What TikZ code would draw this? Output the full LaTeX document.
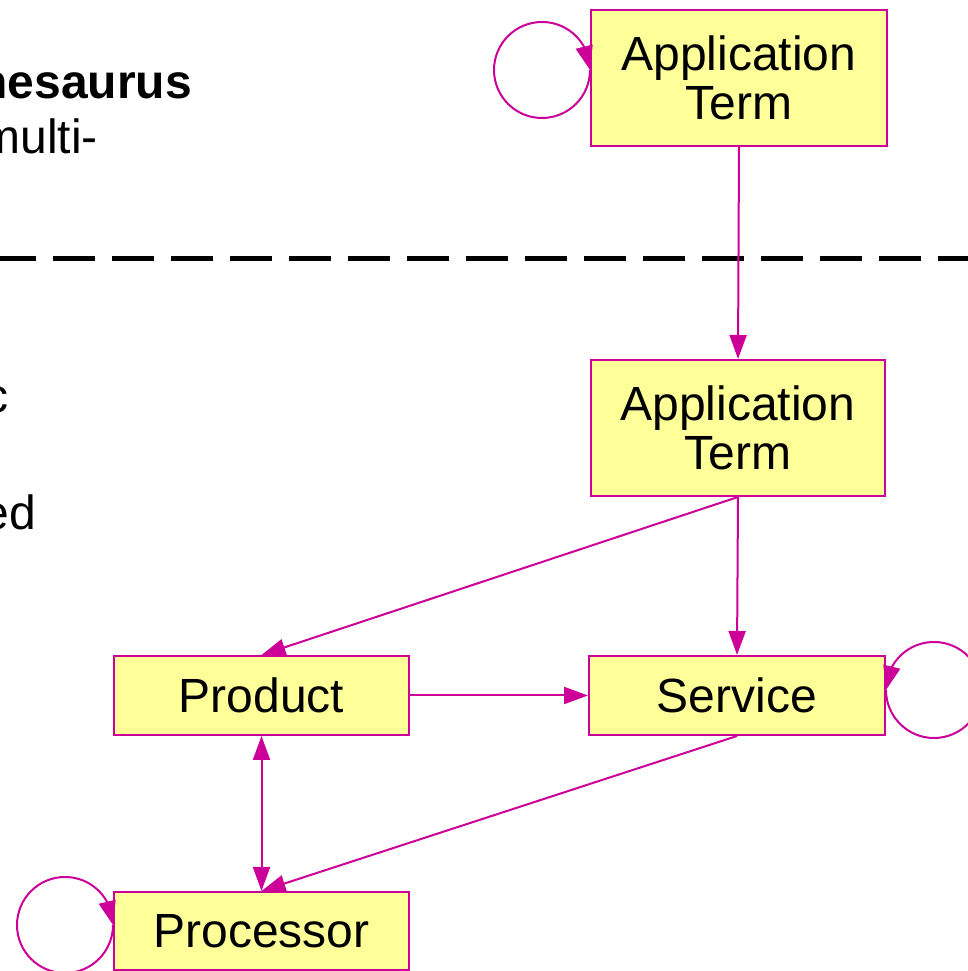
\documentclass[tikz,border=0pt]{standalone}
\usepackage{fontspec}
\setmainfont{Liberation Sans}
\usetikzlibrary{arrows.meta,bending}
\definecolor{edge}{HTML}{CC0099}
\definecolor{boxfill}{HTML}{FFFF99}
\tikzset{
  termbox/.style={draw=edge, line width=2pt, fill=boxfill, inner sep=0pt, align=center,
    font=\fontsize{48}{49}\selectfont, text=black},
  link/.style={draw=edge, line width=2pt, -{Triangle[length=24pt,width=17pt]}},
  looplink/.style={draw=edge, line width=2pt, -{Triangle[length=24pt,width=17pt,flex'=1]}},
  bilink/.style={draw=edge, line width=2pt, {Triangle[length=24pt,width=17pt]}-{Triangle[length=24pt,width=17pt]}},
  slidetext/.style={inner sep=0pt, font=\fontsize{48}{55}\selectfont, text=black}
}
\begin{document}
\begin{tikzpicture}[x=1pt,y=1pt]
\useasboundingbox (0,0) rectangle (968,971);
\clip (0,0) rectangle (968,971);
% slide text (clipped)
\node[slidetext, anchor=base east, font=\fontsize{48}{55}\selectfont\bfseries] (t1) at (192,872) {hesaurus};
\node[slidetext, anchor=base east] (t2) at (98,817) {multi-};
\node[slidetext, anchor=base east] (t3) at (9,558) {c};
\node[slidetext, anchor=base east] (t4) at (36,441) {ed};
% dashed separator
\coordinate (dl) at (0,712);
\coordinate (dr) at (968,712);
\draw[line width=5pt, dash pattern=on 42pt off 17pt, dash phase=6pt] (dl) -- (dr);
% boxes
\node[termbox, minimum width=296pt, minimum height=136pt] (at1) at (739,893) {Application\\Term};
\node[termbox, minimum width=294pt, minimum height=136pt] (at2) at (738,543) {Application\\Term};
\node[termbox, minimum width=295pt, minimum height=79pt] (prod) at (261.5,275.5) {Product};
\node[termbox, minimum width=296pt, minimum height=79pt] (serv) at (737,275.5) {Service};
\node[termbox, minimum width=295pt, minimum height=78pt] (proc) at (261.5,40) {Processor};
% connectors
\draw[link] (at1.south) -- (at2.north);
\draw[link] (at2.south) -- (prod.north);
\draw[link] (at2.south) -- (serv.north);
\draw[link] (prod.east) -- (serv.west);
\draw[bilink] (prod.south) -- (proc.north);
\draw[link] (serv.south) -- (proc.north);
% self loops
\draw[looplink] (at1.west |- 0,901) arc[start angle=0, end angle=-360, radius=48pt];
\draw[looplink] (serv.east |- 0,281) arc[start angle=-180, end angle=180, radius=48pt];
\draw[looplink] (proc.west |- 0,46) arc[start angle=0, end angle=-360, radius=48pt];
\end{tikzpicture}
\end{document}
